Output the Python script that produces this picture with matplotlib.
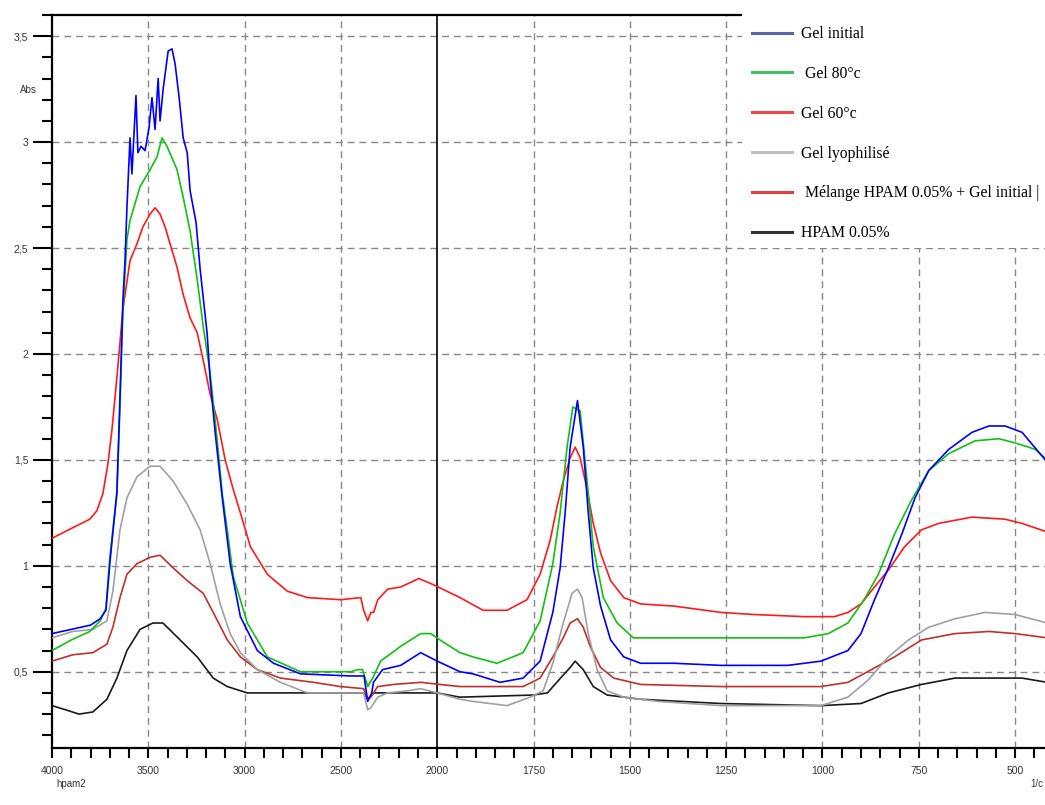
import numpy as np
import matplotlib
matplotlib.use('Agg')
import matplotlib.pyplot as plt
from matplotlib.ticker import FixedLocator, FixedFormatter
from matplotlib.lines import Line2D
from matplotlib.patches import Rectangle

# IR spectra (wavenumber cm-1, absorbance)
w_initial = [4000, 3900, 3800, 3750, 3720, 3700, 3663, 3647, 3632, 3621, 3611, 3595, 3585, 3564,
             3554, 3538, 3517, 3496, 3481, 3465, 3449, 3439, 3423, 3397, 3377, 3361, 3340, 3319,
             3298, 3283, 3252, 3231, 3195, 3179, 3153, 3116, 3075, 3022, 2934, 2850, 2710, 2450,
             2380, 2361, 2340, 2331, 2284, 2190, 2086, 2000, 1941, 1907, 1837, 1777, 1733, 1700,
             1681, 1668, 1655, 1636, 1621, 1608, 1595, 1576, 1550, 1516, 1472, 1386, 1264, 1090,
             1004, 934, 900, 865, 829, 794, 760, 724, 672, 612, 568, 526, 482, 417]
a_initial = [0.68, 0.70, 0.72, 0.75, 0.79, 1.01, 1.35, 1.80, 2.25, 2.44, 2.69, 3.02, 2.85, 3.22,
             2.95, 2.98, 2.96, 3.07, 3.21, 3.06, 3.30, 3.10, 3.25, 3.43, 3.44, 3.37, 3.21, 3.02,
             2.95, 2.77, 2.62, 2.40, 2.10, 1.88, 1.63, 1.32, 1.01, 0.76, 0.60, 0.54, 0.49, 0.48,
             0.48, 0.36, 0.40, 0.45, 0.51, 0.53, 0.59, 0.55, 0.50, 0.49, 0.45, 0.47, 0.55, 0.78,
             0.99, 1.25, 1.56, 1.78, 1.56, 1.25, 0.99, 0.81, 0.65, 0.57, 0.54, 0.54, 0.53, 0.53,
             0.55, 0.60, 0.68, 0.84, 0.99, 1.15, 1.32, 1.45, 1.55, 1.63, 1.66, 1.66, 1.63, 1.49]

w_80 = [4000, 3900, 3804, 3750, 3720, 3700, 3663, 3647, 3632, 3611, 3595, 3543, 3491, 3455, 3429,
        3403, 3351, 3319, 3283, 3246, 3215, 3179, 3142, 3116, 3090, 3059, 2986, 2882, 2710, 2450,
        2414, 2388, 2361, 2335, 2294, 2190, 2086, 2034, 1993, 1941, 1907, 1845, 1777, 1733, 1700,
        1681, 1663, 1648, 1629, 1611, 1595, 1569, 1533, 1491, 1264, 1047, 985, 934, 892, 855, 813,
        769, 724, 672, 604, 542, 500, 448, 417]
a_80 = [0.60, 0.65, 0.69, 0.74, 0.80, 1.04, 1.34, 1.75, 2.20, 2.54, 2.63, 2.79, 2.87, 2.93, 3.02,
        2.98, 2.87, 2.74, 2.58, 2.35, 2.13, 1.91, 1.59, 1.34, 1.17, 0.95, 0.73, 0.57, 0.50, 0.50,
        0.51, 0.51, 0.43, 0.47, 0.55, 0.62, 0.68, 0.68, 0.65, 0.59, 0.57, 0.54, 0.59, 0.74, 1.01,
        1.25, 1.56, 1.75, 1.73, 1.40, 1.09, 0.85, 0.73, 0.66, 0.66, 0.66, 0.68, 0.73, 0.84, 0.96, 1.15,
        1.31, 1.45, 1.53, 1.59, 1.60, 1.58, 1.55, 1.50]

w_60 = [4000, 3892, 3804, 3767, 3736, 3710, 3689, 3663, 3632, 3595, 3559, 3528, 3491, 3465, 3439,
        3413, 3387, 3351, 3319, 3283, 3246, 3215, 3179, 3142, 3101, 3059, 3022, 2970, 2882, 2778,
        2674, 2502, 2397, 2382, 2361, 2345, 2330, 2309, 2257, 2190, 2096, 2018, 1941, 1881, 1819,
        1767, 1733, 1707, 1689, 1673, 1655, 1642, 1629, 1611, 1595, 1576, 1550, 1516, 1472, 1386,
        1264, 1177, 1047, 969, 934, 900, 865, 829, 787, 743, 699, 612, 526, 482, 417]
a_60 = [1.13, 1.18, 1.22, 1.26, 1.34, 1.48, 1.64, 1.89, 2.21, 2.44, 2.52, 2.60, 2.66, 2.69, 2.66,
        2.60, 2.52, 2.41, 2.28, 2.17, 2.10, 1.97, 1.81, 1.69, 1.50, 1.36, 1.25, 1.09, 0.96, 0.88,
        0.85, 0.84, 0.85, 0.79, 0.74, 0.78, 0.78, 0.84, 0.89, 0.90, 0.94, 0.91, 0.85, 0.79, 0.79,
        0.84, 0.96, 1.12, 1.28, 1.40, 1.51, 1.56, 1.51, 1.36, 1.20, 1.06, 0.93, 0.85, 0.82, 0.81,
        0.78, 0.77, 0.76, 0.76, 0.78, 0.82, 0.90, 0.98, 1.09, 1.17, 1.20, 1.23, 1.22, 1.20, 1.16]

w_lyo = [4000, 3892, 3788, 3715, 3684, 3647, 3611, 3559, 3491, 3439, 3371, 3298, 3231, 3179, 3127,
         3075, 3022, 2934, 2814, 2674, 2502, 2382, 2361, 2345, 2309, 2257, 2153, 2086, 2000, 1941,
         1907, 1819, 1759, 1725, 1700, 1673, 1650, 1636, 1624, 1608, 1585, 1559, 1516, 1428, 1264,
         1004, 934, 882, 829, 777, 724, 656, 578, 500, 417]
a_lyo = [0.66, 0.69, 0.70, 0.74, 0.88, 1.17, 1.32, 1.42, 1.47, 1.47, 1.40, 1.29, 1.17, 1.01, 0.82,
         0.68, 0.59, 0.51, 0.45, 0.40, 0.40, 0.40, 0.32, 0.33, 0.38, 0.40, 0.41, 0.42, 0.40, 0.37,
         0.36, 0.34, 0.38, 0.41, 0.54, 0.73, 0.87, 0.89, 0.85, 0.68, 0.51, 0.41, 0.38, 0.36, 0.34,
         0.34, 0.38, 0.46, 0.57, 0.65, 0.71, 0.75, 0.78, 0.77, 0.73]

w_mix = [4000, 3892, 3788, 3715, 3684, 3647, 3611, 3559, 3491, 3439, 3371, 3298, 3215, 3163, 3090,
         3022, 2934, 2814, 2643, 2502, 2382, 2361, 2345, 2309, 2226, 2086, 1993, 1941, 1907, 1777,
         1733, 1700, 1673, 1655, 1636, 1621, 1603, 1576, 1542, 1472, 1264, 1004, 934, 873, 813, 743,
         656, 568, 500, 417]
a_mix = [0.55, 0.58, 0.59, 0.63, 0.71, 0.85, 0.96, 1.01, 1.04, 1.05, 0.99, 0.93, 0.87, 0.78, 0.65,
         0.57, 0.51, 0.47, 0.45, 0.43, 0.42, 0.37, 0.38, 0.43, 0.44, 0.45, 0.44, 0.43, 0.43, 0.43,
         0.47, 0.57, 0.66, 0.73, 0.75, 0.71, 0.62, 0.52, 0.47, 0.44, 0.43, 0.43, 0.45, 0.51, 0.57, 0.65,
         0.68, 0.69, 0.68, 0.66]

w_hpam = [4000, 3928, 3860, 3788, 3715, 3663, 3611, 3543, 3476, 3424, 3335, 3246, 3163, 3090, 2986,
          2850, 2502, 2382, 2361, 2330, 2000, 1941, 1751, 1714, 1680, 1655, 1642, 1621, 1595, 1559,
          1472, 1264, 1004, 900, 829, 743, 656, 568, 482, 417]
a_hpam = [0.34, 0.32, 0.30, 0.31, 0.37, 0.47, 0.60, 0.70, 0.73, 0.73, 0.65, 0.57, 0.47, 0.43, 0.40,
          0.40, 0.40, 0.40, 0.37, 0.40, 0.40, 0.38, 0.39, 0.40, 0.47, 0.52, 0.55, 0.51, 0.43, 0.39,
          0.37, 0.35, 0.34, 0.35, 0.40, 0.44, 0.47, 0.47, 0.47, 0.45]

labels = ['Gel initial', ' Gel 80°c', 'Gel 60°c', 'Gel lyophilisé',
          ' Mélange HPAM 0.05% + Gel initial |', 'HPAM 0.05%']
colors = ['#0000ff', '#11c011', '#ff1a1a', '#a0a0a0', '#c0302a', '#1a1a1a']
legend_colors = ['#5565b0', '#44c060', '#f04848', '#c0c0c0', '#e04040', '#333333']

x_major = [4000, 3500, 3000, 2500, 2000, 1750, 1500, 1250, 1000, 750, 500]
y_major = [0.5, 1, 1.5, 2, 2.5, 3, 3.5]
y_labels = ['0,5', '1', '1,5', '2', '2,5', '3', '3,5']


# scale is doubled below 2000 cm-1, like the spectrometer software
def fwd(w):
    w = np.asarray(w, dtype=float)
    return np.where(w >= 2000, (w - 4000) / 500.0, -4.0 - (2000 - w) / 250.0)


def inv(u):
    u = np.asarray(u, dtype=float)
    return np.where(u >= -4, 4000 + 500.0 * u, 2000 + 250.0 * (u + 4))


fig = plt.figure(figsize=(10.45, 8.05), dpi=100)
ax = fig.add_axes([52 / 1045, 1 - 748 / 805, 1 - 52 / 1045 + 0.002, (748 - 15) / 805])
ax.set_xscale('function', functions=(fwd, inv))

series = [(w_initial, a_initial), (w_80, a_80), (w_60, a_60),
          (w_lyo, a_lyo), (w_mix, a_mix), (w_hpam, a_hpam)]
order = [3, 5, 4, 2, 1, 0]
for i in order:
    w, a = series[i]
    ax.plot(w, a, color=colors[i], lw=1.2, zorder=3 + (5 - i) * 0.01)

ax.set_xlim(4000, 417)
ax.set_ylim(0.14, 3.6)

ax.xaxis.set_major_locator(FixedLocator(x_major))
ax.xaxis.set_major_formatter(FixedFormatter([str(v) for v in x_major]))
minor_x = list(range(4000, 2000, -100)) + list(range(2000, 400, -50))
ax.xaxis.set_minor_locator(FixedLocator(minor_x))
ax.yaxis.set_major_locator(FixedLocator(y_major))
ax.yaxis.set_major_formatter(FixedFormatter(y_labels))
ax.yaxis.set_minor_locator(FixedLocator(np.arange(0.2, 3.61, 0.1)))

ax.tick_params(axis='both', which='major', direction='out', width=1.5, colors='black',
               labelsize=7.5, labelcolor='#333333')
ax.tick_params(axis='y', which='major', length=14, pad=3)
ax.tick_params(axis='x', which='major', length=7, pad=6)
ax.tick_params(axis='both', which='minor', direction='out', width=1.5, length=7)
for lab in ax.get_xticklabels() + ax.get_yticklabels():
    lab.set_family('Liberation Sans')

for s in ['left', 'bottom', 'top']:
    ax.spines[s].set_linewidth(1.6)
ax.spines['right'].set_visible(False)

for v in x_major[1:]:
    if v != 2000:
        ax.axvline(v, color='#888888', lw=1, ls=(0, (5, 3.5)), zorder=1)
for v in y_major:
    ax.axhline(v, color='#888888', lw=1, ls=(0, (5, 3.5)), zorder=1)
ax.axvline(2000, color='black', lw=1.2, zorder=2)

fig.text(20 / 1045, 1 - 90 / 805, 'Abs', fontsize=7, color='#333333', ha='left', va='center',
         family='Liberation Sans')
fig.text(56 / 1045, 1 - 784 / 805, 'hpam2', fontsize=7, color='#333333', ha='left', va='center',
         family='Liberation Sans')
fig.text(1030 / 1045, 1 - 784 / 805, '1/c', fontsize=7, color='#333333', ha='left', va='center',
         family='Liberation Sans')

# white legend panel over the upper right of the plot
fig.add_artist(Rectangle((742 / 1045, 1 - 248 / 805), 1 - 742 / 1045, 248 / 805,
                         transform=fig.transFigure, facecolor='white', edgecolor='none',
                         zorder=5))

handles = [Line2D([], [], color=c, lw=2.2) for c in legend_colors]
leg = fig.legend(handles, labels, loc='upper left', bbox_to_anchor=(752 / 1045, 1 - 26 / 805),
                 frameon=False, prop={'family': 'Liberation Serif', 'size': 11.3},
                 handlelength=2.55, handletextpad=0.55, labelspacing=1.52, borderpad=0,
                 borderaxespad=0)
leg.set_zorder(6)

fig.savefig('out.png', dpi=100)
